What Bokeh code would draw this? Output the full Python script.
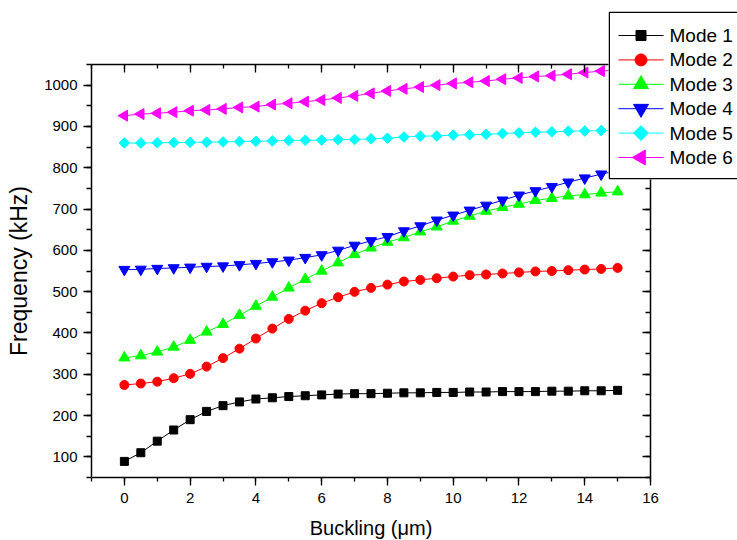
from bokeh.plotting import figure
from bokeh.models import LinearAxis, SingleIntervalTicker, CustomJSTickFormatter, Row
from bokeh.core.properties import value
from bokeh.embed import file_html
from bokeh.resources import INLINE

buckling = [0, 0.5, 1, 1.5, 2, 2.5, 3, 3.5, 4, 4.5, 5, 5.5, 6, 6.5, 7, 7.5,
            8, 8.5, 9, 9.5, 10, 10.5, 11, 11.5, 12, 12.5, 13, 13.5, 14, 14.5, 15]

mode1 = [89, 110, 138, 165, 190, 210, 224, 233, 240, 243, 246, 248, 250, 252, 253, 253,
         254, 255, 255, 256, 256, 257, 257, 258, 258, 258, 259, 259, 260, 260, 261]
mode2 = [274, 277.5, 282, 290.5, 301, 318.5, 339, 362, 386.5, 410.5, 434, 454, 472, 486.5, 499.5, 509,
         517, 524.5, 528.5, 532.5, 536.5, 540, 541.5, 544, 546.5, 549, 550, 552, 553.5, 555, 557.5]
mode3 = [340, 345, 354, 366, 382.5, 402.5, 421, 443, 465, 487, 509, 530, 550, 570, 590, 606,
         620, 631, 645, 657, 671, 683, 695, 704, 712, 721, 726, 732, 735, 739, 742]
mode4 = [553.5, 554, 556, 557.5, 559, 561, 562, 565, 568, 572, 576, 582.5, 589, 600, 612, 623,
         633, 647, 659, 673, 685, 697, 709, 721.5, 733.5, 744, 754, 765, 775, 784.5, 793]
mode5 = [860, 860, 860.5, 861, 861.5, 862, 862.5, 863.5, 864, 865, 866, 866.5, 867, 868, 868.5, 870,
         871.5, 874.5, 876.5, 877, 879, 880, 881, 883, 884.5, 886, 887, 888.5, 889, 890, 891]
mode6 = [926, 930, 932, 934.5, 938, 940, 942.5, 946, 948, 953, 956, 960, 964, 969, 974, 980,
         986, 991, 995.5, 1000, 1004, 1007, 1010, 1014.5, 1017.5, 1021, 1023, 1026.5, 1030.5, 1034, 1037]

labels = ["Mode 1", "Mode 2", "Mode 3", "Mode 4", "Mode 5", "Mode 6"]
series = [mode1, mode2, mode3, mode4, mode5, mode6]
colors = ["#000000", "#FF0000", "#00FF00", "#0000FF", "#00FFFF", "#FF00FF"]
markers = ["square", "circle", "triangle", "inverted_triangle", "square", "triangle"]
angles = [0, 0, 0, 0, 0.785398, 1.570796]
sizes = [8, 9, 11, 11, 7.5, 11]
leg_sizes = [10, 12, 15, 15, 10.5, 15]

FONT = "Liberation Sans"

# layout (pixels)
FL, FT, FW, FH = 91, 64, 559, 413          # frame left/top/width/height
CW, CH = 736, 539                           # canvas size
BB = CH - FT - FH                           # bottom border
LEG_L, LEG_T, LEG_W, LEG_H = 608, 11, 129, 168

p = figure(x_range=(-1, 16), y_range=(50, 1050),
           frame_width=FW, frame_height=FH,
           min_border_left=FL, min_border_right=CW - FL - FW,
           min_border_top=FT, min_border_bottom=BB,
           x_axis_type=None, y_axis_type=None,
           output_backend="svg", toolbar_location=None)
p.outline_line_color = None
p.background_fill_color = "white"
p.border_fill_color = "white"

def xt():
    return SingleIntervalTicker(interval=2, num_minor_ticks=2)

def yt():
    return SingleIntervalTicker(interval=100, num_minor_ticks=2)

def style(ax, tick_in, tick_out, minor_in, minor_out):
    ax.axis_line_width = 1.5
    ax.major_tick_line_width = 1.3
    ax.minor_tick_line_width = 1.3
    ax.major_tick_in = tick_in
    ax.major_tick_out = tick_out
    ax.minor_tick_in = minor_in
    ax.minor_tick_out = minor_out
    ax.major_label_text_font = FONT
    ax.major_label_text_font_size = "15px"
    ax.major_label_text_color = "black"
    ax.axis_label_text_font = FONT
    ax.axis_label_text_font_style = "normal"
    ax.axis_label_text_color = "black"

xb = LinearAxis(ticker=xt(), axis_label="Buckling (\u03bcm)")
style(xb, 0, 8, 0, 4)
xb.major_label_standoff = 7
xb.axis_label_text_font_size = "20px"
xb.axis_label_standoff = 11
p.add_layout(xb, "below")

yl = LinearAxis(ticker=yt(), axis_label="Frequency (kHz)")
style(yl, 0, 8, 0, 5)
yl.major_label_standoff = 6
yl.axis_label_text_font_size = "23px"
yl.axis_label_standoff = 9
p.add_layout(yl, "left")

xtop = LinearAxis(ticker=xt(), formatter=CustomJSTickFormatter(code="return ''"))
style(xtop, 8, 0, 4, 0)
xtop.major_label_standoff = 0
p.add_layout(xtop, "above")

yr = LinearAxis(ticker=yt(), formatter=CustomJSTickFormatter(code="return ''"))
style(yr, 8, 0, 5, 0)
yr.major_label_standoff = 0
p.add_layout(yr, "right")

for ys, c, m, a, s in zip(series, colors, markers, angles, sizes):
    p.line(buckling, ys, line_color=c, line_width=1)
    p.scatter(buckling, ys, marker=m, angle=a, size=s, fill_color=c, line_color=c)

# legend panel, overlapping the plot's top-right corner and clipped by the window edge.
# Its top/bottom borders equal the main plot's (a Row aligns them) and are transparent.
lg = figure(frame_width=LEG_W, frame_height=LEG_H, x_range=(0, LEG_W), y_range=(0, LEG_H),
            x_axis_type=None, y_axis_type=None,
            min_border_left=0, min_border_right=0, min_border_top=FT, min_border_bottom=BB,
            output_backend="svg", toolbar_location=None,
            margin=(LEG_T - FT, 0, 0, LEG_L - CW))
lg.outline_line_color = None
lg.background_fill_color = "white"
lg.border_fill_alpha = 0.0
lg.segment(x0=[0.75, 0.75, 0.75], y0=[0.75, 0.75, LEG_H - 0.75],
           x1=[0.75, LEG_W + 5, LEG_W + 5], y1=[LEG_H - 0.75, 0.75, LEG_H - 0.75],
           line_color="black", line_width=1.5)
row_y = [LEG_H - (24 + 24.4 * i) for i in range(len(labels))]
for i, (c, m, a, s) in enumerate(zip(colors, markers, angles, leg_sizes)):
    lg.line([10, 55], [row_y[i], row_y[i]], line_color=c, line_width=1)
    lg.scatter([32.5], [row_y[i]], marker=m, angle=a, size=s, fill_color=c, line_color=c)
lg.text(x=[61] * len(labels), y=row_y, text=labels, text_font=value(FONT), text_font_size="19px",
        text_baseline="middle", text_align="left", text_color="black")

root = Row(children=[p, lg])
open("out.html", "w").write(file_html(root, INLINE))
